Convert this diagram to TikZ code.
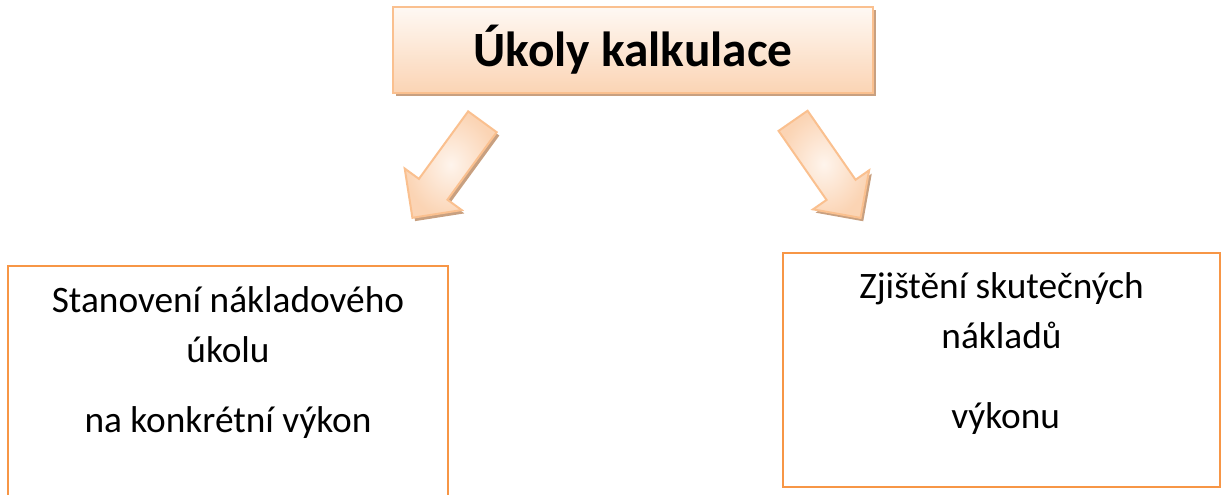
\documentclass[tikz,border=0pt]{standalone}
\usepackage{fontspec}
\setmainfont{Carlito}
\usetikzlibrary{positioning,shapes.arrows,shadows}

\definecolor{peach}{HTML}{FBD4B4}
\definecolor{peachline}{HTML}{FAC08F}
\definecolor{boxorange}{HTML}{F79646}
\definecolor{shadowtan}{HTML}{C8A080}

\begin{document}
\begin{tikzpicture}[x=0.75pt, y=-0.75pt,
    titlebox/.style={draw=peachline, line width=1.5pt, top color=white!85!peach, bottom color=peach,
        minimum width=360pt, minimum height=64.5pt, inner sep=0pt,
        drop shadow={shadow xshift=2.5pt, shadow yshift=-2.5pt, fill=shadowtan, opacity=1},
        font=\fontsize{37}{44}\selectfont\bfseries},
    blockarrow/.style={single arrow, draw=peachline, line width=1.5pt,
        inner xsep=0pt, inner ysep=12.5pt,
        inner color=white!75!peach, outer color=peach,
        single arrow tip angle=90, anchor=tail,
        drop shadow={shadow xshift=2pt, shadow yshift=-2.5pt, fill=shadowtan, opacity=1}},
    taskbox/.style={draw=boxorange, line width=2.2pt, inner sep=0pt},
    tasktext/.style={align=center, inner sep=0pt, anchor=north,
        font=\fontsize{28}{37.5}\selectfont}
]
    \clip (0,0) rectangle (1222,495);

    % Title box
    \node[titlebox] (title) at (633,50) {Úkoly kalkulace};

    % Block arrows down to both tasks
    \node[blockarrow, rotate=233.9, minimum height=89.1pt,
        single arrow head extend=13.2pt] (larrow) at (483,121) {};
    \node[blockarrow, rotate=304.8, minimum height=88.7pt,
        single arrow head extend=12.4pt] (rarrow) at (792.5,120) {};

    % Left task (box runs off the bottom edge)
    \node[taskbox, minimum width=330pt, minimum height=190.5pt] (lbox) at (228,393) {};
    \node[tasktext, below=16pt of lbox.north] (ltext)
        {Stanovení nákladového\\úkolu\\[15pt]na konkrétní výkon};

    % Right task
    \node[taskbox, minimum width=327.75pt, minimum height=175.5pt] (rbox) at (1001.5,370) {};
    \node[tasktext, below=15.5pt of rbox.north] (rtext)
        {Zjištění skutečných\\nákladů\\[22.5pt]\ výkonu};
\end{tikzpicture}
\end{document}
